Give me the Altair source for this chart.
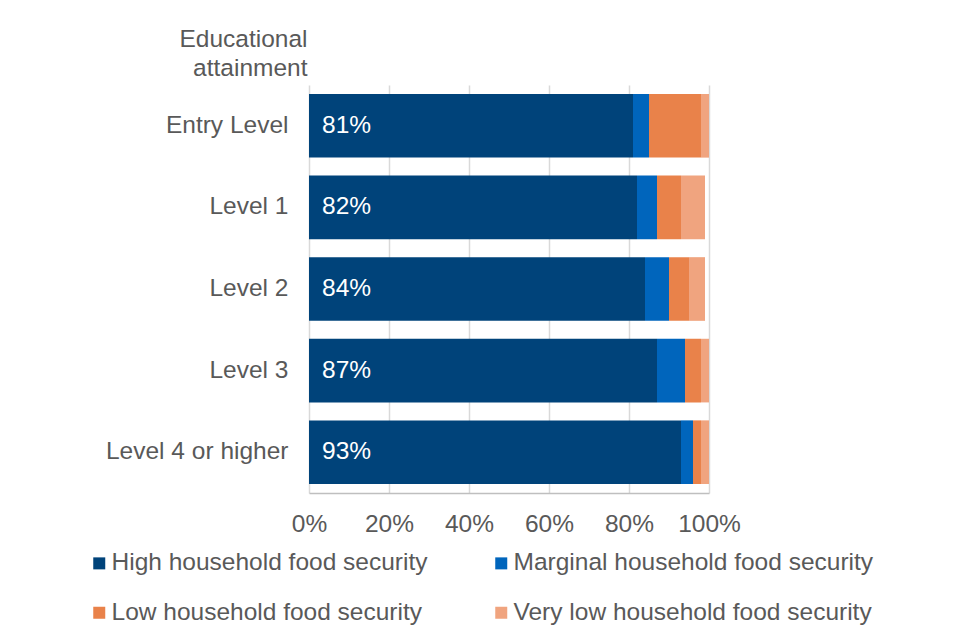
import altair as alt
import pandas as pd

categories = ["Entry Level", "Level 1", "Level 2", "Level 3", "Level 4 or higher"]
series = ["High household food security", "Marginal household food security",
          "Low household food security", "Very low household food security"]
high = [81, 82, 84, 87, 93]
marginal = [4, 5, 6, 7, 3]
low = [13, 6, 5, 4, 2]
very_low = [2, 6, 4, 2, 2]
colors = ["#00437A", "#0065BC", "#E9824A", "#F0A47F"]
x_ticks = [0, 20, 40, 60, 80, 100]

rows = []
for i, c in enumerate(categories):
    for j, (s, vals) in enumerate(zip(series, [high, marginal, low, very_low])):
        rows.append({"category": c, "series": s, "value": vals[i], "order": j})
df = pd.DataFrame(rows)
df_high = pd.DataFrame({"category": categories, "value": high,
                        "label": [f"{v}%" for v in high]})

FONT = "Liberation Sans"
GREY = "#595959"
FS = 24.5

y_enc = alt.Y("category:N", sort=categories,
              scale=alt.Scale(paddingInner=0.22, paddingOuter=0.11),
              axis=alt.Axis(title=["Educational", "attainment"], titleAngle=0,
                            titleAlign="right", titleBaseline="middle",
                            titleX=-2, titleY=-46, titleLineHeight=29,
                            titleFontSize=FS, titleFontWeight="normal",
                            titleColor=GREY, titleFont=FONT,
                            labelFontSize=FS, labelColor=GREY, labelFont=FONT,
                            labelPadding=21, ticks=False, domain=False,
                            grid=False, labelLimit=300))

bars = alt.Chart(df).mark_bar().encode(
    x=alt.X("value:Q", stack="zero",
            scale=alt.Scale(domain=[0, 100], nice=False),
            axis=alt.Axis(values=x_ticks, labelExpr="datum.value + '%'",
                          title=None, grid=True, gridColor="#D9D9D9",
                          gridWidth=1.5, ticks=False, domainColor="#BFBFBF",
                          domainWidth=1.5, labelFontSize=FS, labelColor=GREY,
                          labelFont=FONT, labelPadding=19, labelOverlap=False,
                          labelFlush=False)),
    y=y_enc,
    color=alt.Color("series:N", sort=series,
                    scale=alt.Scale(domain=series, range=colors),
                    legend=alt.Legend(title=None, orient="none", legendX=-222,
                                      legendY=466, columns=2, columnPadding=61,
                                      rowPadding=24.5, symbolType="square",
                                      symbolSize=144, symbolStrokeWidth=0,
                                      labelFontSize=FS, labelColor=GREY,
                                      labelFont=FONT, labelOffset=0,
                                      labelLimit=500, direction="horizontal")),
    order=alt.Order("order:Q"),
)

text = alt.Chart(df_high).mark_text(align="left", baseline="middle", dx=13,
                                    color="white", fontSize=FS, font=FONT).encode(
    x=alt.datum(0),
    y=alt.Y("category:N", sort=categories),
    text="label:N",
)

chart = alt.layer(bars, text).properties(
    width=400, height=408,
    autosize=alt.AutoSizeParams(type="none"),
    padding={"left": 301, "top": 77, "right": 243, "bottom": 135},
).configure_view(stroke=None)

chart.save("out.html", embed_options={"renderer": "svg", "actions": False})
